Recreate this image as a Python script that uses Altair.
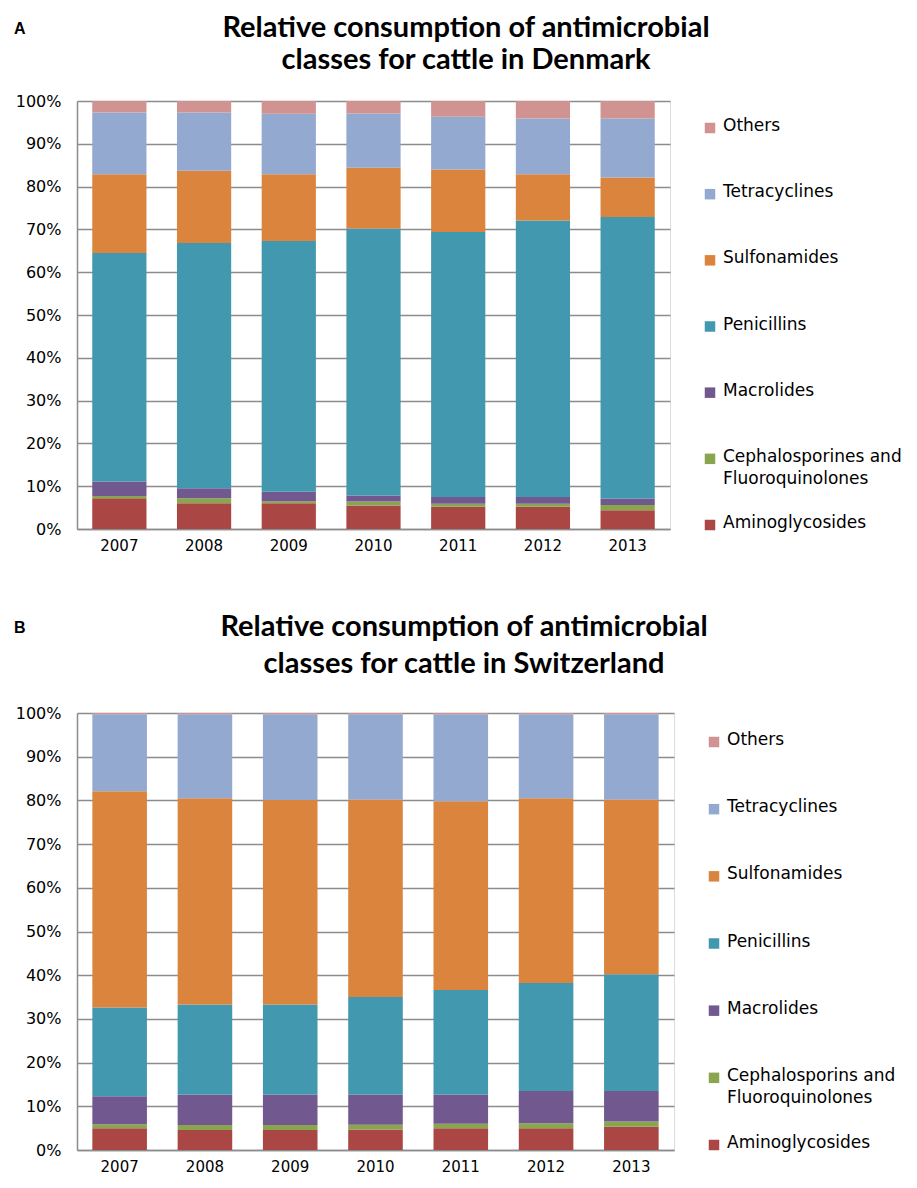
import altair as alt
import pandas as pd

years = ["2007", "2008", "2009", "2010", "2011", "2012", "2013"]

# Stack order (bottom -> top)
dk_classes = ["Aminoglycosides", "Cephalosporines and Fluoroquinolones", "Macrolides",
              "Penicillins", "Sulfonamides", "Tetracyclines", "Others"]
ch_classes = ["Aminoglycosides", "Cephalosporins and Fluoroquinolones", "Macrolides",
              "Penicillins", "Sulfonamides", "Tetracyclines", "Others"]

colors = ["#AA4643", "#89A54E", "#71588F", "#4198AF", "#DB843D", "#93A9CF", "#D19392"]

# Denmark (% of total)
dk_amino = [7.2, 6.0, 6.0, 5.5, 5.2, 5.2, 4.4]
dk_ceph = [0.5, 1.2, 0.5, 0.9, 0.7, 0.7, 1.2]
dk_macro = [3.4, 2.3, 2.2, 1.4, 1.6, 1.6, 1.5]
dk_pen = [53.4, 57.3, 58.6, 62.4, 61.9, 64.6, 65.8]
dk_sulf = [18.4, 16.9, 15.6, 14.2, 14.6, 10.8, 9.2]
dk_tetra = [14.4, 13.6, 14.1, 12.7, 12.3, 13.0, 13.8]
dk_other = [2.7, 2.7, 3.0, 2.9, 3.7, 4.1, 4.1]

# Switzerland (% of total)
ch_amino = [5.0, 4.6, 4.6, 4.7, 5.0, 5.0, 5.3]
ch_ceph = [0.9, 1.1, 1.1, 1.1, 1.0, 1.1, 1.2]
ch_macro = [6.4, 7.0, 7.0, 6.9, 6.7, 7.4, 7.0]
ch_pen = [20.3, 20.6, 20.6, 22.3, 23.9, 24.7, 26.7]
ch_sulf = [49.5, 47.2, 46.8, 45.2, 43.2, 42.3, 40.0]
ch_tetra = [17.6, 19.2, 19.6, 19.5, 19.9, 19.2, 19.5]
ch_other = [0.3, 0.3, 0.3, 0.3, 0.3, 0.3, 0.3]

y_ticks = [0, 10, 20, 30, 40, 50, 60, 70, 80, 90, 100]

dk_title = "Relative consumption of antimicrobial\nclasses for cattle in Denmark"
ch_title = "Relative consumption of antimicrobial\nclasses for cattle in Switzerland"

GRID = "#8c8c8c"


def panel(series, names, letter, title_text, width, height, leg_range,
          title_top, title_lh, title_x):
    rows = []
    for ci, (name, arr) in enumerate(zip(names, series)):
        for yr, v in zip(years, arr):
            rows.append({"Year": yr, "Class": name, "Share": v, "Order": ci})
    df = pd.DataFrame(rows)

    legend_order = names[::-1]
    legend_colors = colors[::-1]
    color_scale = alt.Scale(domain=legend_order, range=legend_colors)

    bars = alt.Chart(df).mark_bar(opacity=1).encode(
        x=alt.X("Year:N", sort=years,
                scale=alt.Scale(paddingInner=0.36, paddingOuter=0.18),
                axis=alt.Axis(title=None, labelAngle=0, ticks=False, grid=False,
                              domainColor=GRID, domainWidth=1.5,
                              labelFont="DejaVu Sans", labelFontSize=15,
                              labelColor="#000", labelPadding=9)),
        y=alt.Y("Share:Q", stack="zero",
                scale=alt.Scale(domain=[0, 100], nice=False),
                axis=alt.Axis(title=None, values=y_ticks,
                              labelExpr="datum.value + '%'",
                              grid=True, gridColor=GRID, gridWidth=1.5,
                              domain=True, domainColor=GRID, domainWidth=1.5,
                              ticks=False, labelFont="DejaVu Sans", labelFontSize=16,
                              labelColor="#000", labelPadding=16)),
        color=alt.Color("Class:N", scale=color_scale, legend=None),
        order=alt.Order("Order:Q", sort="ascending"),
    )

    leg_df = pd.DataFrame({
        "Class": legend_order,
        "Label": [n.replace(" and ", " and\n") for n in legend_order],
    })
    leg_y = alt.Y("Class:N",
                  scale=alt.Scale(type="point", domain=legend_order,
                                  range=leg_range, padding=0),
                  axis=None)
    squares = alt.Chart(leg_df).mark_square(size=110, opacity=1).encode(
        x=alt.value(width + 40),
        y=leg_y,
        color=alt.Color("Class:N", scale=color_scale, legend=None),
    )
    texts = alt.Chart(leg_df).mark_text(
        align="left", baseline="top", dy=-10, lineBreak="\n",
        font="DejaVu Sans", fontSize=17, lineHeight=22, color="#000",
    ).encode(
        x=alt.value(width + 53),
        y=leg_y,
        text="Label:N",
    )

    head_df = pd.DataFrame({"t": [letter], "title": [title_text]})
    letter_mark = alt.Chart(head_df).mark_text(
        font="Liberation Sans", fontWeight="bold", fontSize=16,
        align="left", baseline="middle", color="#000",
    ).encode(
        x=alt.value(-63),
        y=alt.value(title_top + 15),
        text="t:N",
    )
    title_mark = alt.Chart(head_df).mark_text(
        font="Lato", fontWeight="bold", fontSize=29, lineHeight=title_lh,
        lineBreak="\n", align="center", baseline="top",
        color="#000",
    ).encode(
        x=alt.value(title_x),
        y=alt.value(title_top),
        text="title:N",
    )

    return alt.layer(bars, squares, texts, letter_mark, title_mark).resolve_scale(
        y="independent"
    ).properties(width=width, height=height)


chart_a = panel([dk_amino, dk_ceph, dk_macro, dk_pen, dk_sulf, dk_tetra, dk_other],
                dk_classes, "A", dk_title, 593, 428, [27, 424], -87, 32, 389)
chart_b = panel([ch_amino, ch_ceph, ch_macro, ch_pen, ch_sulf, ch_tetra, ch_other],
                ch_classes, "B", ch_title, 597, 437, [29, 432], -100, 37, 387)

chart = alt.vconcat(chart_a, chart_b, spacing=58).resolve_scale(
    color="independent"
).properties(
    padding={"top": 5, "left": 5, "right": 5, "bottom": 5}
).configure_view(strokeWidth=0).configure(background="white")

chart.save("out.html", embed_options={"renderer": "svg", "actions": False})
